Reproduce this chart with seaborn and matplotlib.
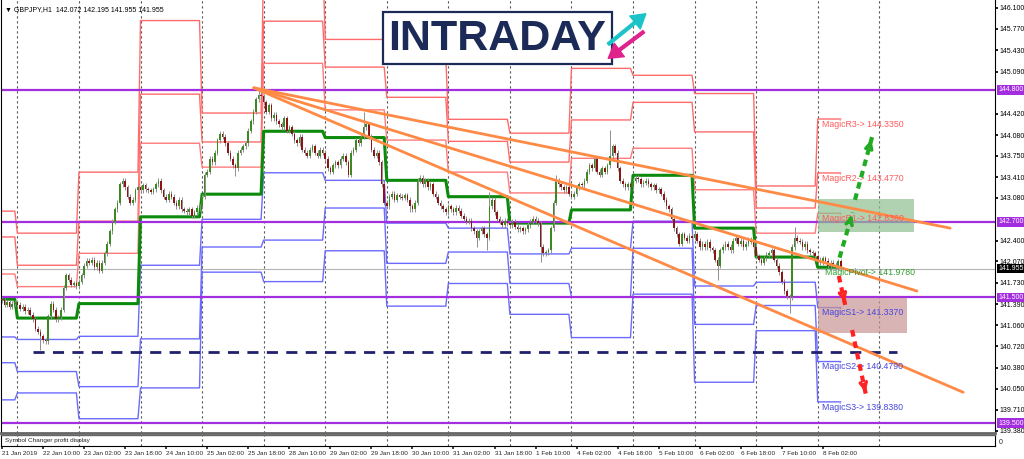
import numpy as np
import matplotlib
matplotlib.use("Agg")
import matplotlib.pyplot as plt
import matplotlib.transforms as mtransforms
from matplotlib.patches import Rectangle
import seaborn as sns

# --- data (GBPJPY H1, 21 Jan 18:00 -> 8 Feb 09:00) ---

# hourly closes, one list per trading day
close_days = [
    [141.45, 141.38, 141.42, 141.35, 141.40, 141.42],
    [141.38, 141.32, 141.35, 141.28, 141.30, 141.22, 141.15, 141.00, 140.95, 140.88, 140.82, 140.80,
     141.20, 141.40, 141.30, 141.15, 141.18, 141.30, 141.65, 141.85, 141.78, 141.70, 141.72, 141.68],
    [141.75, 141.85, 142.00, 142.08, 142.05, 142.10, 141.98, 142.05, 141.92, 142.05, 142.20, 142.35,
     142.55, 142.70, 142.90, 143.00, 143.30, 143.35, 143.25, 143.10, 143.00, 143.05, 143.20, 143.25],
    [143.20, 143.28, 143.22, 143.20, 143.18, 143.22, 143.30, 143.35, 143.20, 143.10, 143.05, 143.15,
     143.10, 143.00, 142.95, 143.05, 142.90, 142.88, 142.85, 142.90, 142.80, 142.85, 142.92, 142.95],
    [143.10, 143.45, 143.50, 143.70, 143.65, 143.80, 144.00, 144.10, 144.05, 143.95, 143.80, 143.70,
     143.60, 143.55, 143.80, 143.85, 143.90, 143.95, 144.15, 144.30, 144.45, 144.65, 144.72, 144.70],
    [144.60, 144.45, 144.55, 144.35, 144.40, 144.30, 144.25, 144.20, 144.35, 144.15, 144.20, 144.10,
     144.00, 143.95, 144.05, 143.85, 143.80, 143.75, 143.85, 143.90, 143.80, 143.75, 143.85, 143.80],
    [143.70, 143.55, 143.50, 143.60, 143.65, 143.60, 143.70, 143.75, 143.65, 143.45, 143.80, 143.85,
     144.00, 143.95, 144.05, 144.20, 144.25, 144.05, 143.85, 143.75, 143.80, 143.65, 143.30, 143.00],
    [142.95, 143.10, 143.15, 143.05, 143.12, 143.10, 143.08, 143.12, 143.05, 142.95, 142.90, 143.00,
     143.35, 143.40, 143.30, 143.35, 143.25, 143.30, 143.15, 143.10, 143.00, 142.95, 142.90, 142.85],
    [142.95, 142.90, 142.85, 142.92, 142.88, 142.80, 142.75, 142.70, 142.72, 142.60, 142.55, 142.45,
     142.55, 142.60, 142.50, 142.45, 142.95, 143.05, 142.85, 142.75, 142.70, 142.65, 142.72, 142.68],
    [142.65, 142.70, 142.62, 142.58, 142.60, 142.55, 142.58, 142.65, 142.70, 142.75, 142.72, 142.68,
     142.30, 142.20, 142.22, 142.25, 142.60, 143.00, 143.35, 143.30, 143.25, 143.20, 143.25, 143.15],
    [143.10, 143.15, 143.25, 143.30, 143.28, 143.35, 143.50, 143.60, 143.55, 143.70, 143.50, 143.45,
     143.55, 143.50, 143.60, 143.75, 143.90, 143.80, 143.55, 143.35, 143.30, 143.25, 143.30, 143.25],
    [143.35, 143.40, 143.38, 143.30, 143.32, 143.35, 143.30, 143.25, 143.28, 143.20, 143.22, 143.15,
     143.05, 142.95, 142.90, 142.75, 142.60, 142.50, 142.35, 142.50, 142.45, 142.40, 142.48, 142.45],
    [142.50, 142.40, 142.30, 142.35, 142.30, 142.38, 142.28, 142.25, 142.10, 142.00, 142.25, 142.30,
     142.35, 142.30, 142.25, 142.40, 142.45, 142.35, 142.40, 142.30, 142.35, 142.42, 142.38, 142.30],
    [142.15, 142.10, 142.05, 142.12, 142.18, 142.20, 142.25, 142.10, 142.00, 141.90, 141.75, 141.60,
     141.52, 141.50, 142.30, 142.45, 142.40, 142.38, 142.30, 142.35, 142.25, 142.22, 142.20, 142.15],
    [142.10, 142.05, 142.12, 142.08, 142.00, 142.05, 142.02, 141.98, 142.07, 141.955],
]
first_open = 141.47
high_spikes = {100: 144.82, 141: 144.45, 190: 143.18, 216: 143.45, 237: 144.16, 309: 142.62}
low_spikes = {15: 140.66, 91: 143.43, 159: 142.85, 185: 142.30, 189: 142.25, 210: 142.06,
              279: 141.78, 307: 141.25}

# daily "Magic" pivot levels, one value per trading day
pivot = [141.47, 141.17, 141.40, 142.78, 143.14, 144.14, 144.04, 143.36, 143.10, 142.68, 142.89, 143.44, 142.60, 142.14, 141.978]
r1 = [141.87, 141.67, 142.20, 143.95, 143.57, 145.22, 144.48, 144.00, 143.49, 143.16, 143.71, 143.87, 143.21, 142.52, 142.836]
r2 = [142.46, 142.01, 142.71, 144.73, 143.97, 145.89, 145.16, 144.68, 143.98, 143.65, 144.32, 144.60, 144.13, 142.92, 143.477]
r3 = [142.87, 142.52, 143.49, 145.90, 144.43, 146.95, 145.60, 145.32, 144.33, 144.11, 145.14, 145.03, 144.74, 143.27, 144.335]
s1 = [140.87, 140.83, 140.88, 142.01, 142.74, 143.48, 143.36, 142.68, 142.60, 142.19, 142.28, 142.71, 141.68, 141.74, 141.337]
s2 = [140.46, 140.32, 140.08, 140.84, 142.30, 142.41, 142.92, 142.04, 142.22, 141.72, 141.50, 142.28, 141.07, 141.37, 140.479]
s3 = [139.87, 139.98, 139.57, 140.06, 141.90, 141.75, 142.24, 141.36, 141.72, 141.23, 140.86, 141.55, 140.15, 140.97, 139.838]

magic_names = ["MagicR3", "MagicR2", "MagicR1", "MagicPivot", "MagicS1", "MagicS2", "MagicS3"]
magic_values = [144.3350, 143.4770, 142.8360, 141.9780, 141.3370, 140.4790, 139.8380]

key_levels = [144.800, 142.700, 141.500, 139.500]
last_price = 141.955
swing_low = 140.63

# price-scale labels (144.760 and 142.740 sit under the level boxes)
ytick_vals = [146.100, 145.770, 145.430, 145.090, 144.420, 144.080, 143.750, 143.410, 143.080,
              142.400, 142.070, 141.730, 141.390, 141.060, 140.720, 140.380, 140.050, 139.710, 139.380]
xtick_bars = [0, 16, 32, 48, 64, 80, 96, 112, 128, 144, 160, 176, 192, 208, 224, 240, 256, 272, 288, 304, 320]
xtick_text = ["21 Jan 2019", "22 Jan 10:00", "23 Jan 02:00", "23 Jan 18:00", "24 Jan 10:00", "25 Jan 02:00",
              "25 Jan 18:00", "28 Jan 10:00", "29 Jan 02:00", "29 Jan 18:00", "30 Jan 10:00", "31 Jan 02:00",
              "31 Jan 18:00", "1 Feb 10:00", "4 Feb 02:00", "4 Feb 18:00", "5 Feb 10:00", "6 Feb 02:00",
              "6 Feb 18:00", "7 Feb 10:00", "8 Feb 02:00"]

# ---------------------------------------------------------------------------

sns.set_theme(style="white")
plt.rcParams["font.family"] = ["Liberation Sans", "DejaVu Sans"]

closes = np.concatenate(close_days)
n = len(closes)
bars = np.arange(n)
opens = np.r_[first_open, closes[:-1]]
highs = np.maximum(opens, closes) + 0.04
lows = np.minimum(opens, closes) - 0.04
for k, v in high_spikes.items():
    highs[k] = v
for k, v in low_spikes.items():
    lows[k] = v

day_len = [len(d) for d in close_days]
day_start = np.cumsum([0] + day_len)[1:-1]
separators = list(day_start) + [day_start[-1] + 24]

W, H = 1024, 459
def fx(px):
    return px / W
def fy(py):
    return 1 - py / H

fig = plt.figure(figsize=(10.24, 4.59), dpi=100)
ax = fig.add_axes([fx(1), fy(433), fx(995) - fx(1), fy(0) - fy(433)])
ax2 = fig.add_axes([fx(1), fy(446), fx(995) - fx(1), fy(435) - fy(446)])

xlim = (-0.39, 387.1)
ax.set_xlim(*xlim)
ax.set_ylim(139.343, 146.227)

# day separators
for b in separators:
    ax.axvline(b, color="#555555", lw=0.8, ls=(0, (2, 2.5)), zorder=1)
    ax2.axvline(b, color="#555555", lw=0.8, ls=(0, (2, 2.5)), zorder=1)

# pivot levels
for levels, col, lw in [(r3, "#ff6b6b", 1.0), (r2, "#ff6b6b", 1.0), (r1, "#ff7a7a", 1.0),
                        (s1, "#6b6bff", 1.0), (s2, "#6b6bff", 1.0), (s3, "#6b6bff", 1.0),
                        (pivot, "#0b8a0b", 2.2)]:
    sns.lineplot(x=bars, y=np.repeat(levels, day_len), color=col, lw=lw, ax=ax, zorder=2)

# horizontal key levels
for lvl in key_levels:
    ax.axhline(lvl, color="#a32ee0", lw=1.6, zorder=2)
ax.axhline(last_price, color="#b4b4b4", lw=0.8, zorder=1)
ax.hlines(swing_low, 12, 349, color="#20206e", lw=2, linestyles=(0, (4, 3)), zorder=2)

# candles
ax.vlines(bars, lows, highs, color="#8f8f8f", lw=0.7, zorder=3)
up = closes >= opens
body = np.maximum(np.abs(closes - opens), 0.012)
ax.bar(bars[up], body[up], bottom=opens[up], width=0.62, color="#3d8a22", lw=0, zorder=4)
ax.bar(bars[~up], body[~up], bottom=closes[~up], width=0.62, color="#8b1414", lw=0, zorder=4)

# trend lines from the 25 Jan high
for end_bar, end_price in [(369.6, 142.60), (356.7, 141.60), (374.7, 139.99)]:
    ax.plot([98.2, end_bar], [144.83, end_price], color="#ff8a45", lw=2, zorder=5)

# target zones
ax.add_patch(Rectangle((318.1, 142.54), 37.5, 0.52, fc="#8fbf8f", ec="none", alpha=0.7, zorder=4))
ax.add_patch(Rectangle((318.1, 140.93), 34.7, 0.56, fc="#c99494", ec="none", alpha=0.7, zorder=4))

# magic level labels
magic_cols = ["#ff5a5a"] * 3 + ["#2f9e2f"] + ["#4646dd"] * 3
for name, val, col in zip(magic_names, magic_values, magic_cols):
    xoff = 320.8 if name == "MagicPivot" else 319.7
    ax.text(xoff, val - 0.085, f"{name}-> {val:.4f}", color=col, fontsize=6.3, va="center", ha="left", zorder=6)

# dashed scenario arrows
def dashed_arrow(p0, p1, col):
    ax.plot([p0[0], p1[0]], [p0[1], p1[1]], color=col, lw=3, ls=(0, (1.6, 1.2)), zorder=7)
    back = (p1[0] - 0.2 * (p1[0] - p0[0]), p1[1] - 0.2 * (p1[1] - p0[1]))
    ax.annotate("", xy=p1, xytext=back,
                arrowprops=dict(arrowstyle="->", color=col, lw=2.5, mutation_scale=11), zorder=7)

dashed_arrow((326.5, 142.13), (331.6, 142.85), "#22aa22")
dashed_arrow((332.5, 143.05), (339.2, 144.05), "#22aa22")
dashed_arrow((326.2, 141.84), (328.7, 141.38), "#ff2222")
dashed_arrow((331.4, 140.98), (336.8, 139.95), "#ff2222")

# right-hand price axis
ax.yaxis.tick_right()
ax.set_yticks(ytick_vals)
ax.set_yticklabels([f"{v:.3f}" for v in ytick_vals])
ax.tick_params(axis="y", labelsize=5, length=2, pad=1.5, colors="black", right=True)
ax.set_xticks([])
ax.set_xlabel("")
ax.set_ylabel("")

blend = mtransforms.blended_transform_factory(ax.transAxes, ax.transData)
for lvl in key_levels:
    ax.text(1.003, lvl, f"{lvl:.3f}", transform=blend, fontsize=5, color="white", va="center", ha="left",
            bbox=dict(boxstyle="square,pad=0.18", fc="#a32ee0", ec="none"), zorder=8, clip_on=False)
ax.text(1.003, last_price, f"{last_price:.3f}", transform=blend, fontsize=5, color="white", va="center",
        ha="left", bbox=dict(boxstyle="square,pad=0.18", fc="black", ec="none"), zorder=8, clip_on=False)

for side in ["left", "right"]:
    ax.spines[side].set_color("black")
    ax.spines[side].set_linewidth(0.8)
ax.spines["top"].set_visible(False)
ax.spines["bottom"].set_color("#666666")
ax.spines["bottom"].set_linewidth(2)

ax.text(0.004, 0.987, "\u25bc GBPJPY,H1  142.072 142.195 141.955 141.955", transform=ax.transAxes,
        fontsize=5, va="top", ha="left", color="black", zorder=9)

# lower indicator pane and time axis
ax2.set_xlim(*xlim)
ax2.set_ylim(0, 1)
ax2.set_yticks([])
ax2.text(0.004, 0.5, "Symbol Changer profit display", transform=ax2.transAxes, fontsize=4.6, va="center")
ax2.text(1.004, 0.3, "0", transform=ax2.transAxes, fontsize=5, va="center")
ax2.set_xticks(xtick_bars)
ax2.set_xticklabels(xtick_text, fontsize=4.6, ha="left")
ax2.tick_params(axis="x", length=2, pad=1.5, bottom=True)
for side in ["left", "right", "bottom"]:
    ax2.spines[side].set_color("black")
    ax2.spines[side].set_linewidth(0.8)
ax2.spines["top"].set_color("#666666")
ax2.spines["top"].set_linewidth(1)

# INTRADAY logo
fig.add_artist(Rectangle((fx(383), fy(64)), fx(612) - fx(383), fy(12) - fy(64), transform=fig.transFigure,
                         fc="white", ec="#1b2a57", lw=1.6, zorder=10))
fig.text(fx(388), fy(39), "INTRADAY", fontsize=31, fontweight="bold", color="#1b2a57", va="center",
         ha="left", zorder=11)
fig.add_artist(plt.Annotation("", xy=(fx(648), fy(12)), xytext=(fx(606), fy(46)), xycoords="figure fraction",
                              arrowprops=dict(arrowstyle="simple,head_width=1.2,head_length=1", color="#1cc3c8",
                                              mutation_scale=10), zorder=12))
fig.add_artist(plt.Annotation("", xy=(fx(606), fy(60)), xytext=(fx(646), fy(30)), xycoords="figure fraction",
                              arrowprops=dict(arrowstyle="simple,head_width=1.2,head_length=1", color="#e0228c",
                                              mutation_scale=10), zorder=12))

fig.savefig("out.png", dpi=100, facecolor="white")
